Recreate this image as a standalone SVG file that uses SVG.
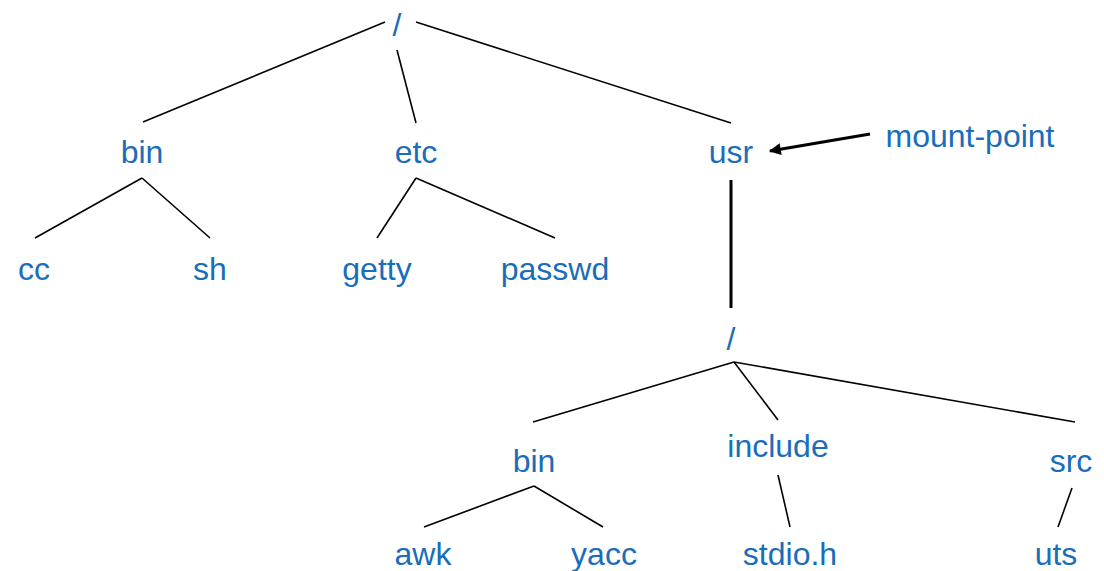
<svg xmlns="http://www.w3.org/2000/svg" width="1104" height="571" viewBox="0 0 1104 571">
<defs>
<style>
.t{font-family:"Liberation Sans",Arial,sans-serif;font-size:32px;fill:#1a6db8;text-anchor:middle}
.l{stroke:#000;stroke-width:1.6;fill:none}
.b{stroke:#000;stroke-width:3;fill:none}
</style>
<marker id="ah" viewBox="0 0 10 10" refX="9" refY="5" markerWidth="4.5" markerHeight="4" orient="auto" markerUnits="strokeWidth">
<path d="M0,0 L10,5 L0,10 Z" fill="#000"/>
</marker>
</defs>
<rect width="1104" height="571" fill="#fff"/>
<g id="connectors">
<line class="l" x1="385" y1="22" x2="143" y2="122"/>
<line class="l" x1="397" y1="50" x2="416" y2="123"/>
<line class="l" x1="416" y1="22" x2="731" y2="123"/>
<line class="l" x1="142" y1="178" x2="35" y2="238"/>
<line class="l" x1="142" y1="178" x2="210" y2="238"/>
<line class="l" x1="416" y1="178" x2="377" y2="238"/>
<line class="l" x1="416" y1="178" x2="555" y2="238"/>
<line class="b" x1="731" y1="180" x2="731" y2="308"/>
<line class="b" x1="870" y1="134" x2="770" y2="151" marker-end="url(#ah)"/>
<line class="l" x1="734" y1="362" x2="533" y2="422"/>
<line class="l" x1="734" y1="362" x2="778" y2="420"/>
<line class="l" x1="734" y1="362" x2="1075" y2="422"/>
<line class="l" x1="534" y1="486" x2="424" y2="527"/>
<line class="l" x1="534" y1="486" x2="603" y2="527"/>
<line class="l" x1="778" y1="475" x2="790" y2="527"/>
<line class="l" x1="1072" y1="488" x2="1058" y2="527"/>
</g>
<g id="root"><text class="t" x="397" y="36">/</text></g>
<g id="bin"><text class="t" x="142" y="163">bin</text></g>
<g id="etc"><text class="t" x="416" y="163">etc</text></g>
<g id="usr"><text class="t" x="731" y="163">usr</text></g>
<g id="mount-point"><text class="t" x="970" y="147">mount-point</text></g>
<g id="cc"><text class="t" x="34" y="280">cc</text></g>
<g id="sh"><text class="t" x="210" y="280">sh</text></g>
<g id="getty"><text class="t" x="377" y="280">getty</text></g>
<g id="passwd"><text class="t" x="555" y="280">passwd</text></g>
<g id="root2"><text class="t" x="731" y="350">/</text></g>
<g id="bin2"><text class="t" x="534" y="472">bin</text></g>
<g id="include"><text class="t" x="778" y="457">include</text></g>
<g id="src"><text class="t" x="1071" y="472">src</text></g>
<g id="awk"><text class="t" x="423" y="565">awk</text></g>
<g id="yacc"><text class="t" x="604" y="565">yacc</text></g>
<g id="stdio"><text class="t" x="790" y="565">stdio.h</text></g>
<g id="uts"><text class="t" x="1056" y="565">uts</text></g>
</svg>
